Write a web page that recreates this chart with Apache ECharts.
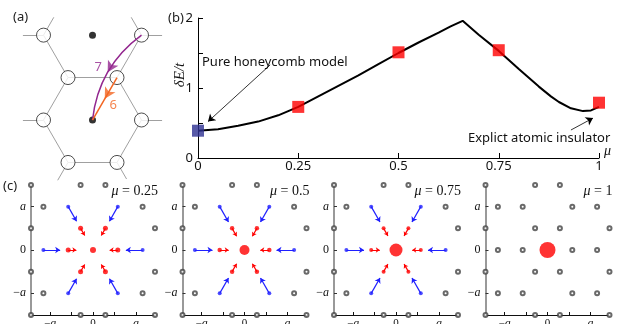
<!DOCTYPE html>
<html>
<head>
<meta charset="utf-8">
<script src="https://cdn.jsdelivr.net/npm/echarts@6/dist/echarts.min.js"></script>
<style>
html,body{margin:0;padding:0;background:#fff}
#chart{width:620px;height:324px}
</style>
</head>
<body>
<div id="chart"></div>
<script>
const sans = "'Noto Sans', sans-serif"
const serif = "'Liberation Serif', serif"
const s3 = Math.sqrt(3)
const u = 1 / s3

// ---- (b) gap vs mu
const muGrid = [0, 0.05, 0.1, 0.15, 0.2, 0.25, 0.3, 0.35, 0.4, 0.45, 0.5, 0.55, 0.6, 0.63, 0.66, 0.7, 0.75, 0.8, 0.85, 0.88, 0.9, 0.93, 0.96, 0.98, 1]
const gapValues = [0.39, 0.41, 0.46, 0.52, 0.61, 0.73, 0.88, 1.03, 1.18, 1.34, 1.5, 1.65, 1.79, 1.88, 1.96, 1.76, 1.53, 1.27, 1.02, 0.88, 0.8, 0.71, 0.67, 0.68, 0.73]
const markerMu = [0, 0.25, 0.5, 0.75, 1]
const markerGap = [0.39, 0.73, 1.51, 1.54, 0.79]
const markerColor = ['#2e3192', '#ff0000', '#ff0000', '#ff0000', '#ff0000']
const bTickLabelsY = [0, 1, 2]

// ---- (a) honeycomb sketch (units of bond length)
const aSites = [[-1, s3], [1, s3], [-0.5, s3 / 2], [0.5, s3 / 2], [-1, 0], [1, 0], [-0.5, -s3 / 2], [0.5, -s3 / 2]]
const aCenters = [[0, 0], [0, s3]]
const aBonds = [[2, 3], [3, 5], [5, 7], [7, 6], [6, 4], [4, 2], [0, 2], [1, 3]]
const aStubs = [[0, [-1, 0]], [0, [0.5, s3 / 2]], [1, [1, 0]], [1, [-0.5, s3 / 2]], [4, [-1, 0]], [5, [1, 0]], [6, [-0.5, -s3 / 2]], [7, [0.5, -s3 / 2]]]

// ---- (c) Wannier centre snapshots; site x in units of a/sqrt(3), y in units of a
const panelMu = ['0.25', '0.5', '0.75', '1']
const redSites = [[1, 0], [-1, 0], [0.5, 0.5], [-0.5, 0.5], [0.5, -0.5], [-0.5, -0.5]]
const blueSites = [[2, 0], [-2, 0], [1, 1], [-1, 1], [1, -1], [-1, -1]]
const otherSites = [[2, 1], [-2, 1], [2, -1], [-2, -1], [2.5, 0.5], [-2.5, 0.5], [2.5, -0.5], [-2.5, -0.5],
  [2.5, 1.5], [-2.5, 1.5], [0.5, 1.5], [-0.5, 1.5], [2.5, -1.5], [-2.5, -1.5], [0.5, -1.5], [-0.5, -1.5]]
const centerSize = [6, 10, 13, 16]
const redSize = [5, 4.5, 4, 0]
const blueArrowLen = [0.39, 0.41, 0.41, 0]
const redArrowLen = [0.19, 0.21, 0.2, 0]

const cLeft = [31, 182.5, 334, 485.5]
const cTop = 185, cW = 124, cH = 130

const toXY = s => [s[0] * u, s[1]]
const toward0 = (p, len) => {
  const r = Math.hypot(p[0], p[1])
  return [p[0] - len * p[0] / r, p[1] - len * p[1] / r]
}

const grids = [
  {left: 4.3, top: 2.4, width: 176.4, height: 181.3, outerBoundsMode: 'none'},
  {left: 198, top: 18, width: 401, height: 140, outerBoundsMode: 'none'}
]
const xAxes = [
  {gridIndex: 0, type: 'value', min: -1.8, max: 1.8, show: false},
  {gridIndex: 1, type: 'value', min: 0, max: 1, interval: 0.25,
    axisLine: {onZero: false, lineStyle: {color: '#000', width: 1}},
    axisTick: {inside: true, length: 5, lineStyle: {color: '#000'}},
    axisLabel: {fontFamily: sans, fontSize: 13, color: '#111', margin: 2, showMinLabel: true, showMaxLabel: true},
    splitLine: {show: false},
    name: 'μ', nameLocation: 'end', nameGap: 5,
    nameTextStyle: {fontFamily: serif, fontStyle: 'italic', fontSize: 14, color: '#111', verticalAlign: 'bottom'}}
]
const yAxes = [
  {gridIndex: 0, type: 'value', min: -1.3, max: 2.4, show: false},
  {gridIndex: 1, type: 'value', min: 0, max: 2, interval: 0.5,
    axisLine: {show: true, onZero: false, lineStyle: {color: '#000', width: 1}},
    axisTick: {show: true, inside: true, length: 5, lineStyle: {color: '#000'}},
    axisLabel: {customValues: bTickLabelsY, fontFamily: sans, fontSize: 13, color: '#111', margin: 5},
    splitLine: {show: false}}
]

const series = []

// (a) bonds
const bondData = aBonds.map(b => ({coords: [aSites[b[0]], aSites[b[1]]]}))
aStubs.forEach(st => {
  const p = aSites[st[0]]
  bondData.push({coords: [p, [p[0] + 0.42 * st[1][0], p[1] + 0.42 * st[1][1]]]})
})
series.push({type: 'lines', coordinateSystem: 'cartesian2d', xAxisIndex: 0, yAxisIndex: 0, z: 1,
  lineStyle: {color: '#a0a0a0', width: 1, opacity: 1}, symbol: 'none', data: bondData, silent: true})
series.push({type: 'scatter', xAxisIndex: 0, yAxisIndex: 0, z: 2, symbol: 'circle', symbolSize: 14,
  itemStyle: {color: '#fff', borderColor: '#222', borderWidth: 1}, data: aSites})
series.push({type: 'scatter', xAxisIndex: 0, yAxisIndex: 0, z: 2, symbolSize: 7,
  itemStyle: {color: '#000'}, data: aCenters})

// (a) hoppings: 7 (curved, purple) and 6 (straight, orange)
const hop7 = [aSites[1], aCenters[0]]
const hop6 = [aSites[3], aCenters[0]]
const curv7 = -0.22
series.push({type: 'lines', coordinateSystem: 'cartesian2d', xAxisIndex: 0, yAxisIndex: 0, z: 3,
  lineStyle: {color: '#93278f', width: 1.5, opacity: 1, curveness: curv7}, symbol: 'none', data: [{coords: hop7}]})
series.push({type: 'lines', coordinateSystem: 'cartesian2d', xAxisIndex: 0, yAxisIndex: 0, z: 3,
  lineStyle: {color: '#f26522', width: 1.5, opacity: 1}, symbol: 'none', data: [{coords: hop6}]})
// arrowheads at the middle of each hop
const p1 = hop7[0], p2 = hop7[1]
const cp = [(p1[0] + p2[0]) / 2 + (p1[1] - p2[1]) * curv7, (p1[1] + p2[1]) / 2 + (p2[0] - p1[0]) * curv7]
const mid7 = [0.25 * p1[0] + 0.5 * cp[0] + 0.25 * p2[0], 0.25 * p1[1] + 0.5 * cp[1] + 0.25 * p2[1]]
const rot = (a, b) => Math.atan2(b[1] - a[1], b[0] - a[0]) * 180 / Math.PI - 90
const mid6 = [(hop6[0][0] + hop6[1][0]) / 2, (hop6[0][1] + hop6[1][1]) / 2]
series.push({type: 'scatter', xAxisIndex: 0, yAxisIndex: 0, z: 4, symbol: 'arrow', symbolSize: [9, 11],
  symbolRotate: rot(p1, p2), itemStyle: {color: '#93278f'}, data: [mid7],
  label: {show: true, formatter: '7', position: [-8, 1], color: '#93278f', fontFamily: sans, fontSize: 13}})
series.push({type: 'scatter', xAxisIndex: 0, yAxisIndex: 0, z: 4, symbol: 'arrow', symbolSize: [9, 11],
  symbolRotate: rot(hop6[0], hop6[1]), itemStyle: {color: '#f26522'}, data: [mid6],
  label: {show: true, formatter: '6', position: [10, 13], color: '#f26522', fontFamily: sans, fontSize: 13}})

// (b) curve + markers + annotation arrows
series.push({type: 'line', xAxisIndex: 1, yAxisIndex: 1, z: 2, symbol: 'none',
  lineStyle: {color: '#000', width: 2}, data: muGrid.map((m, i) => [m, gapValues[i]])})
series.push({type: 'scatter', xAxisIndex: 1, yAxisIndex: 1, z: 3, symbol: 'rect', symbolSize: 12,
  data: markerMu.map((m, i) => ({value: [m, markerGap[i]], itemStyle: {color: markerColor[i]}}))})
series.push({type: 'lines', coordinateSystem: 'cartesian2d', xAxisIndex: 1, yAxisIndex: 1, z: 3,
  lineStyle: {color: '#000', width: 0.8, opacity: 1}, symbol: ['none', 'arrow'], symbolSize: 7,
  data: [{coords: [[0.18, 1.33], [0.025, 0.52]]}, {coords: [[0.93, 0.4], [0.985, 0.57]]}]})

// (c) four panels
const tickVals = [-1, -0.5, 0, 0.5, 1]
const labVals = [-1, 0, 1]
const aFmt = v => v === 0 ? '0' : (v > 0 ? '{i|a}' : '−{i|a}')
const titles = []
panelMu.forEach((mu, p) => {
  const gi = p + 2
  grids.push({left: cLeft[p], top: cTop, width: cW, height: cH, outerBoundsMode: 'none'})
  xAxes.push({gridIndex: gi, type: 'value', min: -2.5 * u, max: 2.5 * u,
    axisLine: {onZero: false, lineStyle: {color: '#111', width: 1}},
    axisTick: {inside: true, length: 3, customValues: tickVals, lineStyle: {color: '#111'}},
    axisLabel: {customValues: labVals, formatter: aFmt, margin: 3, fontFamily: serif, fontSize: 11, color: '#111',
      rich: {i: {fontFamily: serif, fontStyle: 'italic', fontSize: 12, color: '#111'}}},
    splitLine: {show: false}})
  yAxes.push({gridIndex: gi, type: 'value', min: -1.5, max: 1.5,
    axisLine: {show: true, onZero: false, lineStyle: {color: '#777', width: 1.5}},
    axisTick: {show: true, inside: true, length: 3, customValues: labVals, lineStyle: {color: '#333'}},
    axisLabel: {customValues: labVals, formatter: aFmt, margin: 5, fontFamily: serif, fontSize: 12, color: '#111',
      rich: {i: {fontFamily: serif, fontStyle: 'italic', fontSize: 12, color: '#111'}}},
    splitLine: {show: false}})

  const last = p === panelMu.length - 1
  const gray = last ? otherSites.concat(redSites, blueSites) : otherSites
  series.push({type: 'scatter', xAxisIndex: gi, yAxisIndex: gi, z: 2, clip: false, symbol: 'emptyCircle', symbolSize: 4,
    itemStyle: {color: '#444', borderWidth: 1}, data: gray.map(toXY)})
  if (!last) {
    const blueArrows = blueSites.map(s => ({coords: [toXY(s), toward0(toXY(s), blueArrowLen[p])]}))
    const redArrows = redSites.map(s => ({coords: [toXY(s), toward0(toXY(s), redArrowLen[p])]}))
    series.push({type: 'lines', coordinateSystem: 'cartesian2d', xAxisIndex: gi, yAxisIndex: gi, z: 2,
      lineStyle: {color: '#1f1fff', width: 1.2, opacity: 1}, symbol: ['none', 'arrow'], symbolSize: 5, data: blueArrows})
    series.push({type: 'lines', coordinateSystem: 'cartesian2d', xAxisIndex: gi, yAxisIndex: gi, z: 2,
      lineStyle: {color: '#ff0000', width: 1.2, opacity: 1}, symbol: ['none', 'arrow'], symbolSize: 4, data: redArrows})
    series.push({type: 'scatter', xAxisIndex: gi, yAxisIndex: gi, z: 3, symbolSize: 4,
      itemStyle: {color: '#1f1fff'}, data: blueSites.map(toXY)})
    series.push({type: 'scatter', xAxisIndex: gi, yAxisIndex: gi, z: 3, symbolSize: redSize[p],
      itemStyle: {color: '#ff0000'}, data: redSites.map(toXY)})
  }
  series.push({type: 'scatter', xAxisIndex: gi, yAxisIndex: gi, z: 3, symbolSize: centerSize[p],
    itemStyle: {color: '#ff0000'}, data: [[0, 0]]})

  // mu label, white box hides the lattice points underneath as in the original
  titles.push({text: '{i|μ} = ' + mu, right: 620 - (cLeft[p] + cW + 4), top: cTop - 6, padding: [5, 1, 1, 1],
    backgroundColor: '#fff', z: 10,
    textStyle: {fontFamily: serif, fontSize: 14, fontWeight: 'normal', color: '#111',
      rich: {i: {fontFamily: serif, fontStyle: 'italic', fontSize: 14, color: '#111'}}}})
})

const graphics = [
  {type: 'text', x: 13, y: 17, style: {text: '(a)', font: '13px ' + sans, fill: '#222', verticalAlign: 'middle'}},
  {type: 'text', x: 168, y: 18, style: {text: '(b)', font: '13px ' + sans, fill: '#222', verticalAlign: 'middle'}},
  {type: 'text', x: 3, y: 186, style: {text: '(c)', font: '13px ' + sans, fill: '#222', verticalAlign: 'middle'}},
  {type: 'text', x: 180, y: 75, rotation: Math.PI / 2,
    style: {text: 'δE/t', font: 'italic 15px ' + serif, fill: '#111', align: 'center', verticalAlign: 'middle'}},
  {type: 'text', x: 202, y: 62, style: {text: 'Pure honeycomb model', font: '13px ' + sans, fill: '#111', verticalAlign: 'middle'}},
  {type: 'text', x: 468, y: 138, style: {text: 'Explict atomic insulator', font: '13px ' + sans, fill: '#111', verticalAlign: 'middle'}}
]

const chart = echarts.init(document.getElementById('chart'))
chart.setOption({
  backgroundColor: '#fff',
  animation: false,
  title: titles,
  grid: grids,
  xAxis: xAxes,
  yAxis: yAxes,
  series: series,
  graphic: graphics
})
</script>
</body>
</html>
